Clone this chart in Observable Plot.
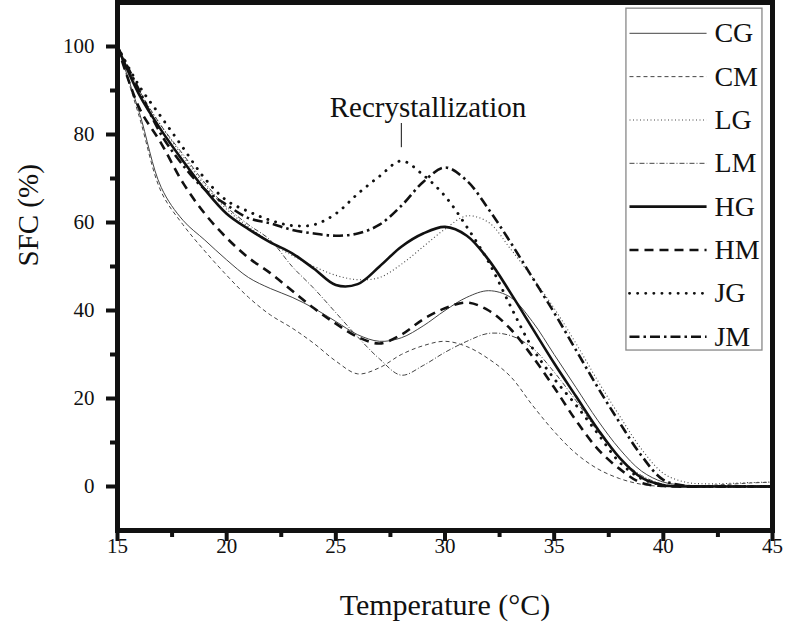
<!DOCTYPE html>
<html><head><meta charset="utf-8">
<script src="https://cdn.jsdelivr.net/npm/d3@7"></script>
<script src="https://cdn.jsdelivr.net/npm/@observablehq/plot@0.6"></script>
<style>
html,body{margin:0;padding:0;background:#fff;}
</style>
</head><body><div id="chart"></div>
<script>
// ---- data ----
const temperature = [15,16,17,18,19,20,21,22,23,24,25,26,27,28,29,30,31,32,33,34,35,36,37,38,39,40,41,42,43,44,45];
const CG = [100,85,68,60.5,56,51.5,47.5,45,43,40.5,37.5,34.5,33,33.8,36.5,40,43,44.5,43,37.5,30,22.5,15,8.5,3.5,1,0.3,0,0,0,0];
const CM = [100,84,67,59.5,53.5,48,43,39,36,32.5,28.5,25.6,27,30,32,33,31.8,29,25,18.5,12.5,7.5,4,1.8,0.5,0,0,0.2,0.5,0.8,1];
const LG = [100,89.5,82,75,68.5,63,59,55.5,52.5,50,48,47,47.5,50.5,54.5,58.5,61.5,60,54,47.5,40.5,32.5,24,16,8.5,3,1,0.6,0.7,0.9,1];
const LM = [100,90,82,75.5,69,63.5,59.5,56,50,45,39.5,34,29,25.3,27.5,30.5,33,34.8,34.3,31.5,26,19.5,12.5,6.5,2.5,0.5,0,0,0,0,0];
const HG = [100,89,81,74,67.5,62,58.5,55.5,53,49.5,45.8,46,50,54.5,57.5,59,57,51.5,44,36,28,20.5,13,6.5,2,0.3,0,0,0,0,0];
const HM = [100,86,78,69,62,56.5,52,48.5,44.5,40.5,37,34,32.5,34.5,38,40.5,41.8,40,35.8,29.6,22.5,15,8.5,4,0.8,0.1,0,0,0,0,0];
const JG = [100,91,84,77,70,65,62.5,60.5,59.3,59.5,62,66.5,70.5,74,70.8,66,59,51,41,31.5,24.5,18.5,12,5.5,1.8,0.3,0,0,0,0,0];
const JM = [100,90,80,73,67.5,64,61,59.8,58.3,57.5,57,57.5,59.5,63.8,69.2,72.5,69.5,63,55.5,47.5,39.5,31,22.5,14.5,7,1.5,0.2,0,0,0,0];
const seriesNames = ["CG","CM","LG","LM","HG","HM","JG","JM"];
const xTicks = [15,20,25,30,35,40,45];
const xMinorTicks = [17.5,22.5,27.5,32.5,37.5,42.5];
const yTicks = [0,20,40,60,80,100];
const yMinorTicks = [10,30,50,70,90];
const annotationText = ["Recrystallization"];

// ---- styles & layout ----
const seriesValues = {CG, CM, LG, LM, HG, HM, JG, JM};
const styles = {
  CG: {stroke:"#444", strokeWidth:1, dash:null},
  CM: {stroke:"#444", strokeWidth:1, dash:"4,3"},
  LG: {stroke:"#444", strokeWidth:1.1, dash:"1,2.5"},
  LM: {stroke:"#444", strokeWidth:1, dash:"5,2,1,2"},
  HG: {stroke:"#111", strokeWidth:2.6, dash:null},
  HM: {stroke:"#111", strokeWidth:2.6, dash:"9,6"},
  JG: {stroke:"#111", strokeWidth:2.9, dash:"0.1,8", cap:"round"},
  JM: {stroke:"#111", strokeWidth:2.6, dash:"10,4,2.5,4"}
};
const X0 = 15, X1 = 45, Y0 = -10, Y1 = 110;
const W = 787, H = 633, mL = 117, mR = 15, mT = 2, mB = 103;
const pxPerX = (W - mL - mR) / (X1 - X0);
const pxPerY = (H - mT - mB) / (Y1 - Y0);
const majorLen = 11, minorLen = 7;

// legend layout (in data units of the plot)
const legendBox = {x1:38.31, x2:44.54, y1:30.9, y2:108.6};
const legendLineX = [38.45, 41.98];
const legendTextX = 42.34;
const legendTop = 103, legendStep = 9.85;

const marks = [];
marks.push(Plot.rect([0], {x1: legendBox.x1, x2: legendBox.x2, y1: legendBox.y1, y2: legendBox.y2, fill:"white", stroke:"#888", strokeWidth:1.3}));

seriesNames.forEach((name, i) => {
  const rows = temperature.map((t, j) => ({t, v: seriesValues[name][j]}));
  const s = styles[name];
  marks.push(Plot.line(rows, {x:"t", y:"v", curve:"catmull-rom", stroke:s.stroke, strokeWidth:s.strokeWidth,
    strokeDasharray: s.dash || undefined, strokeLinecap: s.cap || "butt"}));
  const ly = legendTop - i*legendStep;
  marks.push(Plot.link([name], {x1: legendLineX[0], x2: legendLineX[1], y1: ly, y2: ly, stroke:s.stroke, strokeWidth:s.strokeWidth,
    strokeDasharray: s.dash || undefined, strokeLinecap: s.cap || "butt"}));
  marks.push(Plot.text([name], {x: legendTextX, y: ly, text: d => d, textAnchor:"start", fontSize:28, fill:"#111"}));
});

// annotation
marks.push(Plot.text(annotationText, {x: 29.22, y: 86.2, text: d => d, fontSize: 29, fill:"#111"}));
marks.push(Plot.ruleX([28.0], {y1: 77, y2: 82.5, stroke:"#111", strokeWidth:1}));

// axes: ticks (outward) and labels
marks.push(Plot.ruleX(xTicks, {x: d => d, y1: Y0, y2: Y0 - majorLen / pxPerY, stroke:"#111", strokeWidth:4}));
marks.push(Plot.ruleX(xMinorTicks, {x: d => d, y1: Y0, y2: Y0 - minorLen / pxPerY, stroke:"#111", strokeWidth:4}));
marks.push(Plot.ruleY(yTicks, {y: d => d, x1: X0, x2: X0 - majorLen / pxPerX, stroke:"#111", strokeWidth:4}));
marks.push(Plot.ruleY(yMinorTicks, {y: d => d, x1: X0, x2: X0 - minorLen / pxPerX, stroke:"#111", strokeWidth:4}));
marks.push(Plot.text(xTicks, {x: d => d, frameAnchor:"bottom", dy: 22, text: d => String(d), fontSize:21, fill:"#111"}));
marks.push(Plot.text(yTicks, {y: d => d, frameAnchor:"left", dx: -23, textAnchor:"end", text: d => String(d), fontSize:21, fill:"#111"}));
marks.push(Plot.frame({stroke:"#111", strokeWidth:5}));
marks.push(Plot.text(["Temperature (°C)"], {frameAnchor:"bottom", dy:84, fontSize:30, fill:"#111"}));
marks.push(Plot.text(["SFC (%)"], {frameAnchor:"left", dx:-89, rotate:-90, fontSize:29, fill:"#111"}));

const chart = Plot.plot({
  width: W, height: H,
  marginLeft: mL, marginRight: mR, marginTop: mT, marginBottom: mB,
  x: {domain:[X0, X1], axis: null},
  y: {domain:[Y0, Y1], axis: null},
  style: {fontFamily:"'Liberation Serif', serif", background:"white", color:"#111"},
  marks
});
document.getElementById("chart").appendChild(chart);
</script>
</body></html>
